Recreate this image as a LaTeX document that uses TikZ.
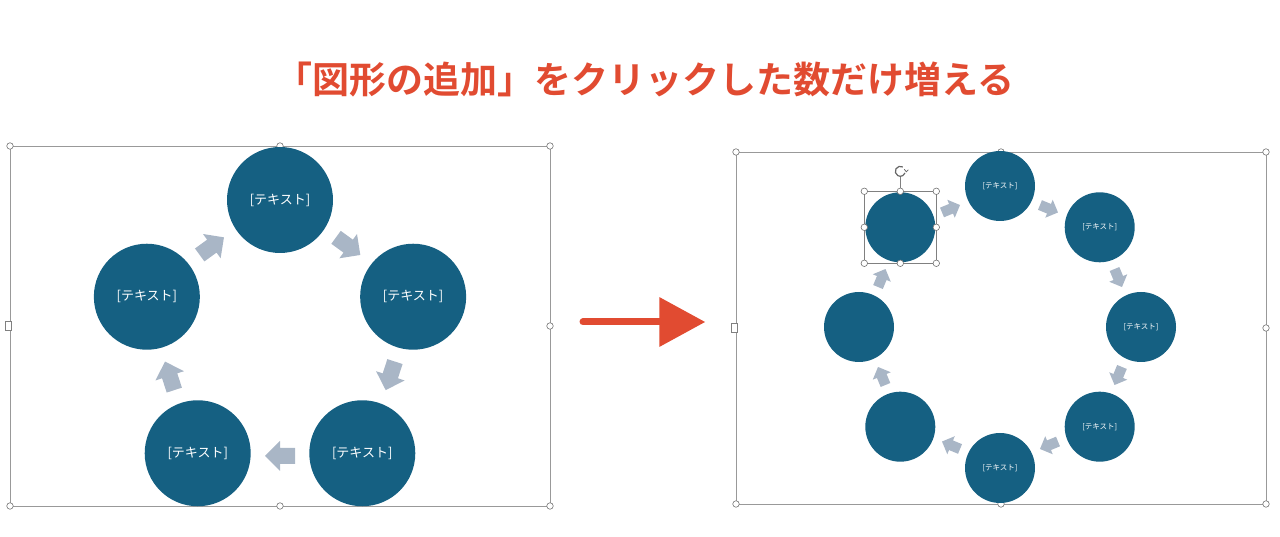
\documentclass[tikz,border=0pt]{standalone}
\usepackage{fontspec}
\newfontfamily\jp{Noto Sans CJK JP}
\newfontfamily\jpb{Noto Sans CJK JP Bold}
\usetikzlibrary{arrows.meta,calc}
\definecolor{teal}{HTML}{156082}
\definecolor{ar}{HTML}{A9B6C6}
\definecolor{red}{HTML}{E14B31}
\tikzset{
 bigc/.style={circle,fill=teal,minimum size=106pt,inner sep=0,text=white,font=\jp\fontsize{13}{13}\selectfont},
 smc/.style={circle,fill=teal,minimum size=70pt,inner sep=0,text=white,font=\jp\fontsize{7.5}{8}\selectfont},
 frame/.style={draw=gray!80,line width=0.8pt},
 hdl/.style={circle,draw=gray!90!black,fill=white,minimum size=6.5pt,inner sep=0,line width=0.6pt},
 blockarrow/.pic={\fill[ar] (-15,-8) -- (0,-8) -- (0,-15) -- (15,0) -- (0,15) -- (0,8) -- (-15,8) -- cycle;},
}
\begin{document}
\begin{tikzpicture}[x=1pt,y=1pt]
\useasboundingbox (0,0) rectangle (1280,537);
\node[font=\jpb\fontsize{37}{37}\selectfont,text=red] (title) at (645,457) {「図形の追加」をクリックした数だけ増える};
% left panel
\draw[frame] (10,31) rectangle (550,391);
\foreach \p [count=\i] in {(10,31),(280,31),(550,31),(550,211),(550,391),(280,391),(10,391)} \node[hdl] (lh\i) at \p {};
\node[draw=gray,fill=white,minimum width=6pt,minimum height=9pt,inner sep=0] (ltab) at (8,211) {};
\coordinate (lc) at (280,197);
\foreach \a/\t [count=\i] in {90/{[テキスト]},18/{[テキスト]},-54/{[テキスト]},-126/{[テキスト]},162/{[テキスト]}}
  \node[bigc] (L\i) at ($(lc)+(\a:140)$) {\t};
\foreach \a [count=\i] in {54,-18,-90,-162,126}
  \pic[rotate=\a-90] (LA\i) at ($(lc)+(\a:116)$) {blockarrow};
% big arrow
\coordinate (rs) at (583,215);
\node[inner sep=0] (re) at (706,215) {};
\draw[red,line width=7pt,line cap=round,-{Triangle[length=46pt,width=48pt,line cap=butt]}] (rs) -- (re);
% right panel
\draw[frame] (736,33) rectangle (1266,385);
\foreach \p [count=\i] in {(736,33),(1001,33),(1266,33),(1266,209),(1266,385),(1001,385),(736,385)} \node[hdl] (rh\i) at \p {};
\node[draw=gray,fill=white,minimum width=6pt,minimum height=9pt,inner sep=0] (rtab) at (734,209) {};
\coordinate (rc) at (1000,210);
\foreach \a/\t [count=\i] in {90/{[テキスト]},45/{[テキスト]},0/{[テキスト]},-45/{[テキスト]},-90/{[テキスト]},-135/{},180/{},135/{}}
  \node[smc] (R\i) at ($(rc)+(\a:141)$) {\t};
\foreach \a [count=\i] in {67.5,22.5,-22.5,-67.5,-112.5,-157.5,157.5,112.5}
  \pic[rotate=\a-90,scale=0.65] (RA\i) at ($(rc)+(\a:128)$) {blockarrow};
% selection
\draw[gray,line width=0.8pt] (R8.center) ++(-36,-36) rectangle ++(72,72);
\foreach \dx/\dy [count=\i] in {-36/-36,0/-36,36/-36,36/0,36/36,0/36,-36/36,-36/0}
  \node[hdl] (s\i) at ($(R8.center)+(\dx,\dy)$) {};
\coordinate (rot) at ($(R8.center)+(0,56)$);
\draw[gray,line width=0.8pt] (s6) -- ($(rot)+(0,-6)$);
\draw[gray!80!black,line width=1.2pt] ($(rot)+(60:5)$) arc (60:340:5);
\draw[gray!80!black,line width=0.8pt] ($(rot)+(0:5)$) ++(-1,2) -- ++(2,-2.5) -- ++(2,2);
\end{tikzpicture}
\end{document}
